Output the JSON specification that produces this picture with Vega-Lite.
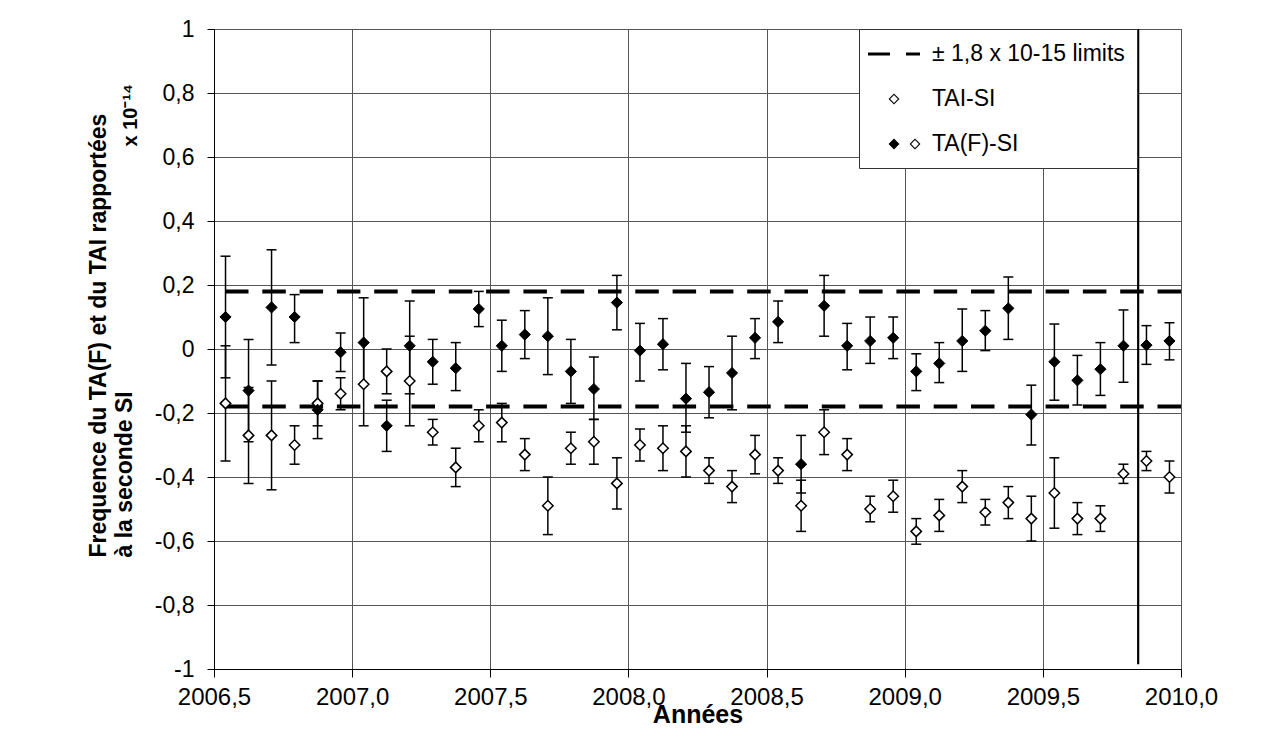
{
  "$schema": "https://vega.github.io/schema/vega-lite/v6.json",
  "width": 967,
  "height": 640,
  "autosize": "none",
  "padding": {"left": 214, "top": 29, "right": 107, "bottom": 78},
  "background": "white",
  "title": {"text": "x 10⁻¹⁴", "orient": "left", "anchor": "end", "frame": "group", "font": "Liberation Sans", "fontSize": 20, "fontWeight": "bold", "color": "black", "baseline": "alphabetic", "offset": 0, "dx": -55, "dy": 70},
  "config": {
    "font": "Liberation Sans",
    "locale": {"number": {"decimal": ",", "thousands": ".", "grouping": [3], "currency": ["", " €"], "minus": "-"}},
    "view": {"stroke": "black", "strokeWidth": 1}
  },
  "datasets": {
    "obs": [
      {"t": 2006.5417, "s": "TA(F)-SI", "v": 0.10, "lo": -0.09, "hi": 0.29},
      {"t": 2006.625, "s": "TA(F)-SI", "v": -0.13, "lo": -0.29, "hi": 0.03},
      {"t": 2006.7083, "s": "TA(F)-SI", "v": 0.13, "lo": -0.05, "hi": 0.31},
      {"t": 2006.7917, "s": "TA(F)-SI", "v": 0.10, "lo": 0.02, "hi": 0.17},
      {"t": 2006.875, "s": "TA(F)-SI", "v": -0.19, "lo": -0.28, "hi": -0.10},
      {"t": 2006.9583, "s": "TA(F)-SI", "v": -0.01, "lo": -0.07, "hi": 0.05},
      {"t": 2007.0417, "s": "TA(F)-SI", "v": 0.02, "lo": -0.11, "hi": 0.16},
      {"t": 2007.125, "s": "TA(F)-SI", "v": -0.24, "lo": -0.32, "hi": -0.16},
      {"t": 2007.2083, "s": "TA(F)-SI", "v": 0.01, "lo": -0.14, "hi": 0.15},
      {"t": 2007.2917, "s": "TA(F)-SI", "v": -0.04, "lo": -0.11, "hi": 0.03},
      {"t": 2007.375, "s": "TA(F)-SI", "v": -0.06, "lo": -0.13, "hi": 0.02},
      {"t": 2007.4583, "s": "TA(F)-SI", "v": 0.125, "lo": 0.07, "hi": 0.18},
      {"t": 2007.5417, "s": "TA(F)-SI", "v": 0.01, "lo": -0.07, "hi": 0.09},
      {"t": 2007.625, "s": "TA(F)-SI", "v": 0.045, "lo": -0.03, "hi": 0.12},
      {"t": 2007.7083, "s": "TA(F)-SI", "v": 0.04, "lo": -0.08, "hi": 0.16},
      {"t": 2007.7917, "s": "TA(F)-SI", "v": -0.07, "lo": -0.17, "hi": 0.03},
      {"t": 2007.875, "s": "TA(F)-SI", "v": -0.125, "lo": -0.22, "hi": -0.025},
      {"t": 2007.9583, "s": "TA(F)-SI", "v": 0.145, "lo": 0.06, "hi": 0.23},
      {"t": 2008.0417, "s": "TA(F)-SI", "v": -0.005, "lo": -0.10, "hi": 0.08},
      {"t": 2008.125, "s": "TA(F)-SI", "v": 0.015, "lo": -0.065, "hi": 0.095},
      {"t": 2008.2083, "s": "TA(F)-SI", "v": -0.155, "lo": -0.26, "hi": -0.045},
      {"t": 2008.2917, "s": "TA(F)-SI", "v": -0.135, "lo": -0.215, "hi": -0.055},
      {"t": 2008.375, "s": "TA(F)-SI", "v": -0.075, "lo": -0.19, "hi": 0.04},
      {"t": 2008.4583, "s": "TA(F)-SI", "v": 0.035, "lo": -0.03, "hi": 0.095},
      {"t": 2008.5417, "s": "TA(F)-SI", "v": 0.085, "lo": 0.02, "hi": 0.15},
      {"t": 2008.625, "s": "TA(F)-SI", "v": -0.36, "lo": -0.45, "hi": -0.27},
      {"t": 2008.7083, "s": "TA(F)-SI", "v": 0.135, "lo": 0.04, "hi": 0.23},
      {"t": 2008.7917, "s": "TA(F)-SI", "v": 0.01, "lo": -0.065, "hi": 0.08},
      {"t": 2008.875, "s": "TA(F)-SI", "v": 0.025, "lo": -0.045, "hi": 0.10},
      {"t": 2008.9583, "s": "TA(F)-SI", "v": 0.035, "lo": -0.03, "hi": 0.10},
      {"t": 2009.0417, "s": "TA(F)-SI", "v": -0.07, "lo": -0.13, "hi": -0.015},
      {"t": 2009.125, "s": "TA(F)-SI", "v": -0.045, "lo": -0.105, "hi": 0.02},
      {"t": 2009.2083, "s": "TA(F)-SI", "v": 0.025, "lo": -0.07, "hi": 0.125},
      {"t": 2009.2917, "s": "TA(F)-SI", "v": 0.057, "lo": -0.005, "hi": 0.12},
      {"t": 2009.375, "s": "TA(F)-SI", "v": 0.127, "lo": 0.03, "hi": 0.225},
      {"t": 2009.4583, "s": "TA(F)-SI", "v": -0.205, "lo": -0.30, "hi": -0.113},
      {"t": 2009.5417, "s": "TA(F)-SI", "v": -0.04, "lo": -0.16, "hi": 0.078},
      {"t": 2009.625, "s": "TA(F)-SI", "v": -0.098, "lo": -0.175, "hi": -0.02},
      {"t": 2009.7083, "s": "TA(F)-SI", "v": -0.063, "lo": -0.145, "hi": 0.02},
      {"t": 2009.7917, "s": "TA(F)-SI", "v": 0.01, "lo": -0.104, "hi": 0.122},
      {"t": 2009.875, "s": "TA(F)-SI", "v": 0.012, "lo": -0.048, "hi": 0.073},
      {"t": 2009.9583, "s": "TA(F)-SI", "v": 0.025, "lo": -0.034, "hi": 0.082},
      {"t": 2006.5417, "s": "TAI-SI", "v": -0.17, "lo": -0.35, "hi": 0.01},
      {"t": 2006.625, "s": "TAI-SI", "v": -0.27, "lo": -0.42, "hi": -0.12},
      {"t": 2006.7083, "s": "TAI-SI", "v": -0.27, "lo": -0.44, "hi": -0.10},
      {"t": 2006.7917, "s": "TAI-SI", "v": -0.30, "lo": -0.36, "hi": -0.24},
      {"t": 2006.875, "s": "TAI-SI", "v": -0.17, "lo": -0.24, "hi": -0.10},
      {"t": 2006.9583, "s": "TAI-SI", "v": -0.14, "lo": -0.19, "hi": -0.09},
      {"t": 2007.0417, "s": "TAI-SI", "v": -0.11, "lo": -0.24, "hi": 0.02},
      {"t": 2007.125, "s": "TAI-SI", "v": -0.07, "lo": -0.14, "hi": 0.00},
      {"t": 2007.2083, "s": "TAI-SI", "v": -0.10, "lo": -0.24, "hi": 0.04},
      {"t": 2007.2917, "s": "TAI-SI", "v": -0.26, "lo": -0.30, "hi": -0.22},
      {"t": 2007.375, "s": "TAI-SI", "v": -0.37, "lo": -0.43, "hi": -0.31},
      {"t": 2007.4583, "s": "TAI-SI", "v": -0.24, "lo": -0.29, "hi": -0.19},
      {"t": 2007.5417, "s": "TAI-SI", "v": -0.23, "lo": -0.29, "hi": -0.17},
      {"t": 2007.625, "s": "TAI-SI", "v": -0.33, "lo": -0.38, "hi": -0.28},
      {"t": 2007.7083, "s": "TAI-SI", "v": -0.49, "lo": -0.58, "hi": -0.40},
      {"t": 2007.7917, "s": "TAI-SI", "v": -0.31, "lo": -0.36, "hi": -0.26},
      {"t": 2007.875, "s": "TAI-SI", "v": -0.29, "lo": -0.36, "hi": -0.22},
      {"t": 2007.9583, "s": "TAI-SI", "v": -0.42, "lo": -0.50, "hi": -0.34},
      {"t": 2008.0417, "s": "TAI-SI", "v": -0.30, "lo": -0.35, "hi": -0.25},
      {"t": 2008.125, "s": "TAI-SI", "v": -0.31, "lo": -0.38, "hi": -0.24},
      {"t": 2008.2083, "s": "TAI-SI", "v": -0.32, "lo": -0.40, "hi": -0.24},
      {"t": 2008.2917, "s": "TAI-SI", "v": -0.38, "lo": -0.42, "hi": -0.34},
      {"t": 2008.375, "s": "TAI-SI", "v": -0.43, "lo": -0.48, "hi": -0.38},
      {"t": 2008.4583, "s": "TAI-SI", "v": -0.33, "lo": -0.39, "hi": -0.27},
      {"t": 2008.5417, "s": "TAI-SI", "v": -0.38, "lo": -0.42, "hi": -0.34},
      {"t": 2008.625, "s": "TAI-SI", "v": -0.49, "lo": -0.57, "hi": -0.41},
      {"t": 2008.7083, "s": "TAI-SI", "v": -0.26, "lo": -0.33, "hi": -0.19},
      {"t": 2008.7917, "s": "TAI-SI", "v": -0.33, "lo": -0.38, "hi": -0.28},
      {"t": 2008.875, "s": "TAI-SI", "v": -0.50, "lo": -0.54, "hi": -0.46},
      {"t": 2008.9583, "s": "TAI-SI", "v": -0.46, "lo": -0.51, "hi": -0.41},
      {"t": 2009.0417, "s": "TAI-SI", "v": -0.57, "lo": -0.61, "hi": -0.53},
      {"t": 2009.125, "s": "TAI-SI", "v": -0.52, "lo": -0.57, "hi": -0.47},
      {"t": 2009.2083, "s": "TAI-SI", "v": -0.43, "lo": -0.48, "hi": -0.38},
      {"t": 2009.2917, "s": "TAI-SI", "v": -0.51, "lo": -0.55, "hi": -0.47},
      {"t": 2009.375, "s": "TAI-SI", "v": -0.48, "lo": -0.53, "hi": -0.43},
      {"t": 2009.4583, "s": "TAI-SI", "v": -0.53, "lo": -0.60, "hi": -0.46},
      {"t": 2009.5417, "s": "TAI-SI", "v": -0.45, "lo": -0.56, "hi": -0.34},
      {"t": 2009.625, "s": "TAI-SI", "v": -0.53, "lo": -0.58, "hi": -0.48},
      {"t": 2009.7083, "s": "TAI-SI", "v": -0.53, "lo": -0.57, "hi": -0.49},
      {"t": 2009.7917, "s": "TAI-SI", "v": -0.39, "lo": -0.42, "hi": -0.36},
      {"t": 2009.875, "s": "TAI-SI", "v": -0.35, "lo": -0.38, "hi": -0.32},
      {"t": 2009.9583, "s": "TAI-SI", "v": -0.40, "lo": -0.45, "hi": -0.35}
    ],
    "limits": [{"y": 0.18}, {"y": -0.18}],
    "marker": [{"t": 2009.845, "top": 1, "bottom": -0.985}],
    "legendrows": [{"series": "± 1,8 x 10-15 limits"}, {"series": "TAI-SI"}, {"series": "TA(F)-SI"}]
  },
  "layer": [
    {
      "data": {"name": "obs"},
      "mark": {"type": "rule", "color": "black", "strokeWidth": 1.5},
      "encoding": {
        "x": {"field": "t", "type": "quantitative",
          "scale": {"domain": [2006.5, 2010], "nice": false, "zero": false},
          "axis": {"values": [2006.5, 2007, 2007.5, 2008, 2008.5, 2009, 2009.5, 2010], "format": ".1f",
            "title": "Années", "titleFont": "Liberation Sans", "titleFontSize": 25, "titleFontWeight": "bold", "titleColor": "black",
            "titleBaseline": "alphabetic", "titleY": 53, "titleX": 483.5, "titleAlign": "center",
            "labelFont": "Liberation Sans", "labelFontSize": 24, "labelColor": "black", "labelPadding": 8, "labelFlush": false, "labelOverlap": false,
            "tickColor": "black", "tickSize": 8, "tickWidth": 1, "domainColor": "black", "domainWidth": 1,
            "grid": true, "gridColor": "#555", "gridWidth": 1}},
        "y": {"field": "lo", "type": "quantitative",
          "scale": {"domain": [-1, 1], "nice": false, "zero": false},
          "axis": {"values": [-1, -0.8, -0.6, -0.4, -0.2, 0, 0.2, 0.4, 0.6, 0.8, 1], "format": ".1~f",
            "title": ["Frequence du TA(F) et du TAI rapportées", "à la seconde SI"],
            "titleFont": "Liberation Sans", "titleFontSize": 23, "titleFontWeight": "bold", "titleColor": "black",
            "titleAngle": 270, "titleAlign": "left", "titleBaseline": "alphabetic", "titleX": -109, "titleY": 528, "titleLineHeight": 26,
            "labelFont": "Liberation Sans", "labelFontSize": 23, "labelColor": "black", "labelPadding": 13, "labelFlush": false, "labelOverlap": false,
            "tickColor": "black", "tickSize": 7, "tickWidth": 1, "domainColor": "black", "domainWidth": 1,
            "grid": true, "gridColor": "#555", "gridWidth": 1}},
        "y2": {"field": "hi"}
      }
    },
    {
      "data": {"name": "obs"},
      "mark": {"type": "tick", "orient": "horizontal", "size": 10, "thickness": 1.5, "color": "black", "opacity": 1},
      "encoding": {
        "x": {"field": "t", "type": "quantitative"},
        "y": {"field": "lo", "type": "quantitative"}
      }
    },
    {
      "data": {"name": "obs"},
      "mark": {"type": "tick", "orient": "horizontal", "size": 10, "thickness": 1.5, "color": "black", "opacity": 1},
      "encoding": {
        "x": {"field": "t", "type": "quantitative"},
        "y": {"field": "hi", "type": "quantitative"}
      }
    },
    {
      "data": {"name": "limits"},
      "mark": {"type": "rule", "color": "black", "strokeWidth": 4, "strokeDash": [23.5, 13.8]},
      "encoding": {
        "y": {"field": "y", "type": "quantitative"}
      }
    },
    {
      "data": {"name": "marker"},
      "mark": {"type": "rule", "color": "black", "strokeWidth": 2.2},
      "encoding": {
        "x": {"field": "t", "type": "quantitative"},
        "y": {"field": "top", "type": "quantitative"},
        "y2": {"field": "bottom"}
      }
    },
    {
      "data": {"name": "obs"},
      "transform": [{"filter": "datum.s === 'TAI-SI'"}],
      "mark": {"type": "point", "shape": "diamond", "filled": true, "fill": "white", "stroke": "black", "strokeWidth": 1.5, "size": 110, "opacity": 1},
      "encoding": {
        "x": {"field": "t", "type": "quantitative"},
        "y": {"field": "v", "type": "quantitative"}
      }
    },
    {
      "data": {"name": "obs"},
      "transform": [{"filter": "datum.s === 'TA(F)-SI'"}],
      "mark": {"type": "point", "shape": "diamond", "filled": true, "fill": "black", "stroke": "black", "strokeWidth": 1, "size": 125, "opacity": 1},
      "encoding": {
        "x": {"field": "t", "type": "quantitative"},
        "y": {"field": "v", "type": "quantitative"}
      }
    },
    {
      "data": {"name": "legendrows"},
      "mark": {"type": "point", "filled": true, "color": "black", "opacity": 1},
      "encoding": {
        "x": {"field": "t", "type": "quantitative"},
        "y": {"field": "v", "type": "quantitative"},
        "shape": {"field": "series", "type": "nominal",
          "scale": {"domain": ["± 1,8 x 10-15 limits", "TAI-SI", "TA(F)-SI"],
            "range": [
              "M-2,-0.12H-0.308V0.12H-2ZM0.923,-0.12H2V0.12H0.923Z",
              "M0,-0.42L0.42,0L0,0.42L-0.42,0ZM0,-0.3L-0.3,0L0,0.3L0.3,0Z",
              "M0,-0.42L0.42,0L0,0.42L-0.42,0ZM1.615,-0.42L2.035,0L1.615,0.42L1.195,0ZM1.615,-0.3L1.315,0L1.615,0.3L1.915,0Z"]},
          "legend": {"title": null, "orient": "none", "legendX": 645, "legendY": 0, "padding": 12, "strokeColor": "#333", "fillColor": "white",
            "labelFont": "Liberation Sans", "labelFontSize": 23, "labelColor": "black", "labelOffset": 25, "labelLimit": 400,
            "symbolSize": 676, "symbolOffset": 10, "symbolStrokeWidth": 0, "rowPadding": 20}}
      }
    }
  ]
}
